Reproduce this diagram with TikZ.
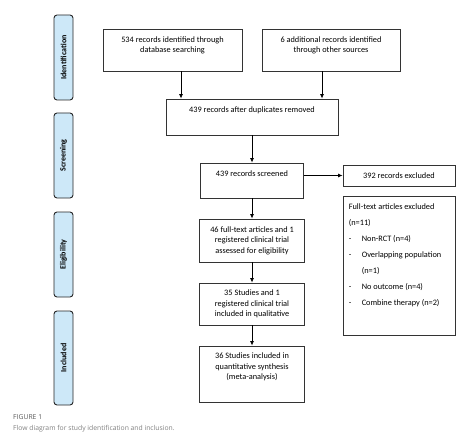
\documentclass[tikz,border=0pt]{standalone}
\usepackage{fontspec}
\setmainfont{Carlito}
\newfontfamily\capfont{Open Sans}
\usetikzlibrary{arrows.meta,calc}
\definecolor{sidefill}{HTML}{CDE8F8}
\begin{document}
\begin{tikzpicture}[x=1pt,y=-1pt,
  box/.style={draw=black!80,line width=0.8pt,rectangle,inner sep=0pt},
  txt/.style={font=\fontsize{8.3}{10.5}\selectfont,align=center,inner sep=0pt,anchor=north},
  side/.style={draw=black!85,line width=0.9pt,fill=sidefill,rounded corners=3pt,minimum width=19pt,inner sep=0pt,font=\fontsize{8}{10}\selectfont\bfseries},
  arr/.style={-{Latex[length=4.5pt,width=4pt]},line width=0.8pt,draw=black}]
\useasboundingbox (0,0) rectangle (474,441);
% side bars
\node[side,minimum height=85] (s1) at (63.5,57.5) {\rotatebox{90}{Identification}};
\node[side,minimum height=85] (s2) at (63.5,155.5) {\rotatebox{90}{Screening}};
\node[side,minimum height=85] (s3) at (63.5,254.5) {\rotatebox{90}{Eligibility}};
\node[side,minimum height=94] (s4) at (63.5,358) {\rotatebox{90}{Included}};
% boxes
\node[box,minimum width=139,minimum height=42] (b1) at (172.5,50) {};
\node[txt] (t1) at ($(b1.north)+(0,7.5)$) {534 records identified through\\database searching};
\node[box,minimum width=138,minimum height=42] (b2) at (331,50) {};
\node[txt] (t2) at ($(b2.north)+(0,7.5)$) {6 additional records identified\\through other sources};
\node[box,minimum width=172,minimum height=36] (b3) at (252,117) {};
\node[txt] (t3) at ($(b3.north)+(0,8)$) {439 records after duplicates removed};
\node[box,minimum width=103,minimum height=35] (b4) at (252,180.5) {};
\node[txt] (t4) at ($(b4.north)+(0,7.5)$) {439 records screened};
\node[box,minimum width=112,minimum height=21,font=\fontsize{8.3}{10.5}\selectfont] (ex1) at (399,175.5) {392 records excluded};
\node[box,minimum width=112,minimum height=139] (ex2) at (399,265.5) {};
\node[anchor=north west,inner sep=0pt,align=left,font=\fontsize{8.3}{16}\selectfont] (t8) at ($(ex2.north west)+(6,7.5)$)
 {Full-text articles excluded\\
  (n=11)\\
  \makebox[13pt][l]{-}Non-RCT (n=4)\\
  \makebox[13pt][l]{-}Overlapping population\\
  \hspace*{13pt}(n=1)\\
  \makebox[13pt][l]{-}No outcome (n=4)\\
  \makebox[13pt][l]{-}Combine therapy (n=2)};
\node[box,minimum width=105,minimum height=43] (b5) at (252,240.5) {};
\node[txt] (t5) at ($(b5.north)+(0,7.5)$) {46 full-text articles and 1\\registered clinical trial\\assessed for eligibility};
\node[box,minimum width=105,minimum height=42] (b6) at (252,304) {};
\node[txt] (t6) at ($(b6.north)+(0,7)$) {35 Studies and 1\\registered clinical trial\\included in qualitative};
\node[box,minimum width=105,minimum height=56] (b7) at (252,374) {};
\node[txt] (t7) at ($(b7.north)+(0,7)$) {36 Studies included in\\quantitative synthesis\\(meta-analysis)};
% arrows
\draw[arr] ([xshift=8.5pt]b1.south) -- ([xshift=8.5pt]b1.south |- b3.north);
\draw[arr] ([xshift=-9pt]b2.south) -- ([xshift=-9pt]b2.south |- b3.north);
\draw[arr] (b3.south) -- (b4.north);
\draw[arr] (b4.east |- ex1.west) -- (ex1.west);
\draw[arr] (b4.south) -- (b5.north);
\draw[arr] (b5.south) -- (b6.north);
\draw[arr] (b6.south) -- (b7.north);
% caption
\node[anchor=base west,inner sep=0pt,font=\capfont\fontsize{6.8}{8}\selectfont,text=black!65] (c1) at (13,419.5) {FIGURE 1};
\node[anchor=base west,inner sep=0pt,font=\capfont\fontsize{6.8}{8}\selectfont,text=black!50] (c2) at (13,430) {Flow diagram for study identification and inclusion.};
\end{tikzpicture}
\end{document}
